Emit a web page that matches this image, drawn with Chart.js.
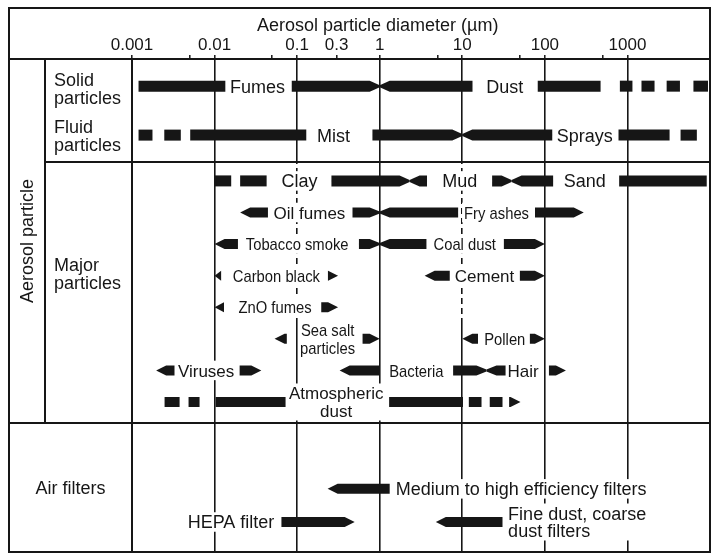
<!DOCTYPE html>
<html>
<head>
<meta charset="utf-8">
<title>Aerosol particle sizes</title>
<script src="https://cdn.jsdelivr.net/npm/chart.js@4.4.0/dist/chart.umd.min.js"></script>
<style>
  html, body { margin: 0; padding: 0; background: #fff; }
  #wrap { width: 712px; height: 554px; }
</style>
</head>
<body>
<div id="wrap"><canvas id="sizeChart"></canvas></div>
<script>
// diameter axis (µm)
var tickValues = [0.001, 0.005, 0.01, 0.05, 0.1, 0.3, 1, 5, 10, 50, 100, 500, 1000];
var tickLabels = ['0.001', '', '0.01', '', '0.1', '0.3', '1', '', '10', '', '100', '', '1000'];
var decades = [0.001, 0.01, 0.1, 1, 10, 100, 1000];

// one band per row, counted down from the header
var rowNames = ['Solid particles', 'Fluid particles', 'Clay / Mud / Sand', 'Oil fumes / Fry ashes',
  'Tobacco smoke / Coal dust', 'Carbon black / Cement', 'ZnO fumes', 'Sea salt / Pollen',
  'Viruses / Bacteria / Hair', 'Atmospheric dust', 'Medium to high efficiency filters', 'HEPA / Fine dust filters'];
var rowLevel = [1, 2.55, 4, 5, 6, 7, 8, 9, 10, 11, 13.75, 14.8];

// segments: [from µm, to µm, left end, right end]   end: 0 square, 1 point, 2 pinch
var solid = [[0.0012, 0.0135], [0.086, 1, 0, 2], [1, 13.3, 2, 0], [82, 473],
  [810, 1150], [1480, 2130], [2985, 4325], [6300, 9460]];
var fluid = [[0.0012, 0.00177], [0.00246, 0.0039], [0.00507, 0.129], [0.816, 10, 0, 2],
  [10, 123, 2, 0], [780, 3240], [4400, 6930]];
var clay = [[0.01, 0.0159], [0.0204, 0.0427], [0.26, 2.3, 0, 2], [2.3, 3.74, 2, 0],
  [23, 39.5, 0, 2], [39.5, 126, 2, 0], [794, 9130]];
var oilFumes = [[0.0204, 0.0443, 1, 0], [0.468, 1, 0, 2], [1, 8.9, 2, 0], [76, 296, 0, 1]];
var tobacco = [[0.01, 0.0192, 1, 0], [0.56, 1, 0, 2], [1, 3.68, 2, 0], [31.9, 100, 0, 1]];
var carbon = [[0.01, 0.012, 1, 0], [0.236, 0.313, 0, 1], [3.5, 7.05, 1, 0], [49.8, 100, 0, 1]];
var zno = [[0.01, 0.013, 1, 0], [0.196, 0.313, 0, 1]];
var seaSalt = [[0.0533, 0.075, 1, 0], [0.62, 1, 0, 1], [10, 15.5, 1, 0], [65.8, 100, 0, 1]];
var viruses = [[0.00196, 0.00327, 1, 0], [0.0201, 0.0368, 0, 1], [0.327, 0.98, 1, 0],
  [7.74, 19.6, 0, 2], [19.6, 34.4, 2, 0], [112, 180, 0, 1]];
var atmos = [[0.00248, 0.00377], [0.00484, 0.00658], [0.0103, 0.0724], [1.3, 10.2],
  [12, 17.1], [21.5, 30.7], [36.9, 50.7, 0, 1]];
var mediumFilter = [[0.234, 1.32, 1, 0]];
var hepaFilter = [[0.0645, 0.498, 0, 1], [4.78, 30.7, 1, 0]];
var rowSegments = [solid, fluid, clay, oilFumes, tobacco, carbon, zno, seaSalt, viruses, atmos, mediumFilter, hepaFilter];

// names written on the rows: [text, µm, row, style]  n = narrow, l = left aligned
var labels = [
  ['Fumes', 0.033, 0], ['Dust', 32.7, 0],
  ['Mist', 0.275, 1], ['Sprays', 305, 1],
  ['Clay', 0.107, 2], ['Mud', 9.3, 2], ['Sand', 305, 2],
  ['Oil fumes', 0.141, 3], ['Fry ashes', 26, 3, 'n'],
  ['Tobacco smoke', 0.1, 4, 'n'], ['Coal dust', 10.7, 4, 'n'],
  ['Carbon black', 0.056, 5, 'n'], ['Cement', 18.6, 5],
  ['ZnO fumes', 0.054, 6, 'n'],
  ['Sea salt\nparticles', 0.234, 7, 'n'], ['Pollen', 32.7, 7, 'n'],
  ['Viruses', 0.0079, 8], ['Bacteria', 2.78, 8, 'n'], ['Hair', 54.6, 8],
  ['Atmospheric\ndust', 0.297, 9],
  ['Medium to high efficiency filters', 1.56, 10, 'l'],
  ['HEPA filter', 0.0158, 11], ['Fine dust, coarse\ndust filters', 35.9, 11, 'l']
];

var INK = '#161616';
var FONT = '"Liberation Sans", Arial, sans-serif';
var TIP = 10;
var sectionBreaks = [3.4, 11.667];
var dashedGrid = [[0.1, 3.4, 8.45], [10, 3.4, 8.35]];

function line(ctx, x0, y0, x1, y1) {
  ctx.beginPath();
  ctx.moveTo(x0, y0);
  ctx.lineTo(x1, y1);
  ctx.stroke();
}

function drawTapered(ctx, bar, ends) {
  var x0 = Math.min(bar.x, bar.base), x1 = Math.max(bar.x, bar.base);
  var h = bar.height / 2, y = bar.y;
  var len = Math.min(TIP, (x1 - x0) / (ends[0] && ends[1] ? 2 : 1));
  var nl = ends[0] === 2 ? 1 : 0, nr = ends[1] === 2 ? 1 : 0;

  ctx.beginPath();
  if (ends[0]) { ctx.moveTo(x0, y - nl); ctx.lineTo(x0 + len, y - h); }
  else ctx.moveTo(x0, y - h);
  if (ends[1]) {
    ctx.lineTo(x1 - len, y - h); ctx.lineTo(x1, y - nr);
    ctx.lineTo(x1, y + nr); ctx.lineTo(x1 - len, y + h);
  } else {
    ctx.lineTo(x1, y - h); ctx.lineTo(x1, y + h);
  }
  if (ends[0]) { ctx.lineTo(x0 + len, y + h); ctx.lineTo(x0, y + nl); }
  else ctx.lineTo(x0, y + h);
  ctx.closePath();
  ctx.fill();
}

// bars with pointed / pinched ends
var taperPlugin = {
  id: 'taper',
  beforeDatasetsDraw: function (chart) {
    var ctx = chart.ctx, x = chart.scales.x, y = chart.scales.y;
    ctx.save();
    ctx.strokeStyle = '#fff';
    ctx.lineWidth = 3;
    ctx.setLineDash([4, 6]);
    dashedGrid.forEach(function (d) {
      var px = x.getPixelForValue(d[0]);
      line(ctx, px, y.getPixelForValue(d[1]) + 2, px, y.getPixelForValue(d[2]));
    });
    ctx.restore();
  },
  beforeDatasetDraw: function (chart, args) {
    var ctx = chart.ctx, ds = chart.data.datasets[args.index];
    ctx.save();
    ctx.fillStyle = ds.backgroundColor;
    args.meta.data.forEach(function (bar, i) {
      drawTapered(ctx, bar, ds.data[i].ends);
    });
    ctx.restore();
    return false;
  }
};

var labelPlugin = {
  id: 'rowLabels',
  afterDatasetsDraw: function (chart) {
    var ctx = chart.ctx, x = chart.scales.x, y = chart.scales.y;
    var LINE = 17.5;
    ctx.save();
    ctx.textBaseline = 'alphabetic';
    ctx.textAlign = 'left';
    labels.forEach(function (l) {
      var lines = l[0].split('\n');
      var sx = l[3] === 'n' ? 0.87 : 1;
      var size = (l[2] <= 2 || l[2] >= 10) ? 18 : 17;
      ctx.font = size + 'px ' + FONT;
      var widths = lines.map(function (t) { return ctx.measureText(t).width * sx; });
      var w = Math.max.apply(null, widths);
      var cx = x.getPixelForValue(l[1]), cy = y.getPixelForValue(rowLevel[l[2]]);
      var left = l[3] === 'l' ? cx : cx - w / 2;
      var hgt = lines.length * LINE;
      ctx.fillStyle = '#fff';
      ctx.fillRect(left - 2, cy - hgt / 2 - 1, w + 4, hgt + 2);
      ctx.fillStyle = INK;
      lines.forEach(function (t, i) {
        var lx = l[3] === 'l' ? left : cx - widths[i] / 2;
        var capY = cy + (i - (lines.length - 1) / 2) * LINE;
        ctx.save();
        ctx.translate(lx, capY + size * 0.36);
        ctx.scale(sx, 1);
        ctx.fillText(t, 0, 0);
        ctx.restore();
      });
    });
    ctx.restore();
  }
};

// table frame, header title and the left-hand captions
var framePlugin = {
  id: 'frame',
  afterDraw: function (chart) {
    var ctx = chart.ctx, a = chart.chartArea, x = chart.scales.x, y = chart.scales.y;
    var left = 9, top = 8, mid = 45;
    var y1 = y.getPixelForValue(sectionBreaks[0]), y2 = y.getPixelForValue(sectionBreaks[1]);
    ctx.save();
    ctx.strokeStyle = INK;
    ctx.lineWidth = 2;
    ctx.strokeRect(left, top, a.right - left, a.bottom - top);
    line(ctx, left, a.top, a.right, a.top);
    line(ctx, mid, y1, a.right, y1);
    line(ctx, left, y2, a.right, y2);
    line(ctx, mid, a.top, mid, y2);
    line(ctx, a.left, a.top, a.left, a.bottom);

    ctx.fillStyle = INK;
    ctx.font = '18px ' + FONT;
    ctx.textAlign = 'center';
    ctx.textBaseline = 'alphabetic';
    ctx.fillText('Aerosol particle diameter (\u00b5m)', x.getPixelForValue(1) - 2, 30.5);

    ctx.textAlign = 'left';
    function caption(lines, yc) {
      lines.forEach(function (t, i) {
        ctx.fillText(t, mid + 9, yc + (i - (lines.length - 1) / 2) * 18 + 6.5);
      });
    }
    caption(['Solid', 'particles'], y.getPixelForValue(rowLevel[0]) + 2);
    caption(['Fluid', 'particles'], y.getPixelForValue(rowLevel[1]));
    caption(['Major', 'particles'], y.getPixelForValue(rowLevel[5]) - 2);

    ctx.textAlign = 'center';
    ctx.fillText('Air filters', (left + a.left) / 2, y.getPixelForValue(rowLevel[10]) + 5.5);

    ctx.save();
    ctx.translate((left + mid) / 2 + 6, (a.top + y2) / 2);
    ctx.rotate(-Math.PI / 2);
    ctx.fillText('Aerosol particle', 0, 0);
    ctx.restore();
    ctx.restore();
  }
};

var datasets = rowSegments.map(function (segs, i) {
  return {
    label: rowNames[i],
    data: segs.map(function (s) {
      return { x: [s[0], s[1]], y: rowLevel[i], ends: [s[2] || 0, s[3] || 0] };
    }),
    backgroundColor: INK,
    barThickness: i < 3 ? 11 : 10,
    grouped: false
  };
});

new Chart(document.getElementById('sizeChart'), {
  type: 'bar',
  data: { datasets: datasets },
  options: {
    indexAxis: 'y',
    responsive: true,
    maintainAspectRatio: false,
    animation: false,
    events: [],
    layout: { padding: { left: 132, right: 2, top: 8, bottom: 2 } },
    plugins: { legend: { display: false }, tooltip: { enabled: false } },
    scales: {
      x: {
        type: 'logarithmic',
        position: 'top',
        min: 0.001,
        max: 10000,
        afterBuildTicks: function (scale) {
          scale.ticks = tickValues.map(function (v) { return { value: v }; });
        },
        afterFit: function (scale) { scale.height = 51; },
        border: { display: false },
        grid: {
          color: function (c) {
            return c.tick && decades.indexOf(c.tick.value) >= 0 ? INK : 'rgba(0,0,0,0)';
          },
          lineWidth: 1.6,
          tickColor: INK,
          tickLength: 4,
          tickWidth: 1.5
        },
        ticks: {
          autoSkip: false,
          maxRotation: 0,
          minRotation: 0,
          padding: -1,
          color: INK,
          font: { family: FONT, size: 17 },
          callback: function (v, i) { return tickLabels[i]; }
        }
      },
      y: {
        type: 'linear',
        display: false,
        reverse: true,
        offset: false,
        min: 0.14,
        max: 15.75
      }
    }
  },
  plugins: [taperPlugin, labelPlugin, framePlugin]
});
</script>
</body>
</html>
